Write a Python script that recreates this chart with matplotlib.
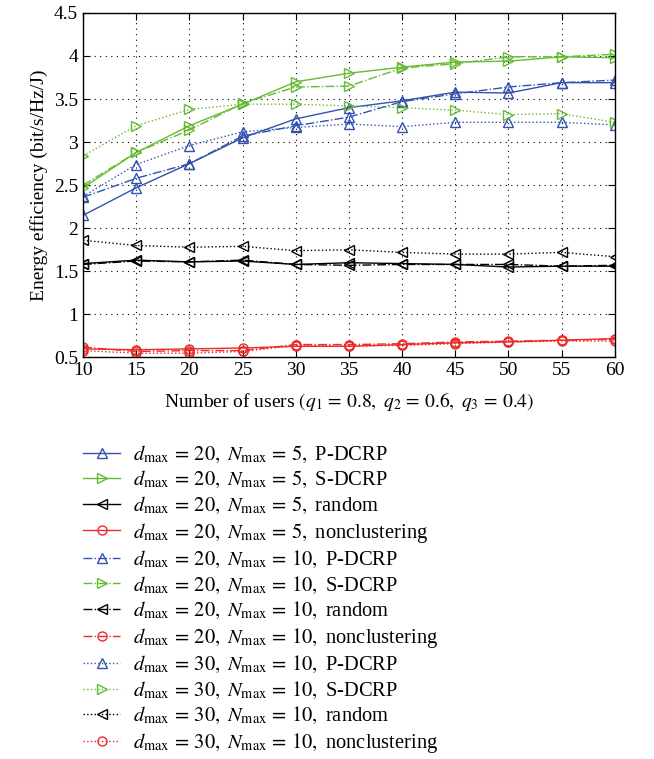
import matplotlib
matplotlib.use('Agg')
import matplotlib.pyplot as plt

plt.rcParams['font.family'] = ['Liberation Serif', 'DejaVu Serif']
plt.rcParams['mathtext.fontset'] = 'stix'

# number of users
users = [10, 15, 20, 25, 30, 35, 40, 45, 50, 55, 60]

# dmax = 20, Nmax = 5
pdcrp_20_5 = [2.15, 2.47, 2.75, 3.05, 3.27, 3.40, 3.48, 3.58, 3.57, 3.69, 3.69]
sdcrp_20_5 = [2.47, 2.88, 3.19, 3.44, 3.70, 3.80, 3.87, 3.93, 3.94, 3.99, 3.98]
random_20_5 = [1.59, 1.63, 1.61, 1.62, 1.58, 1.60, 1.59, 1.58, 1.55, 1.56, 1.56]
noclust_20_5 = [0.60, 0.59, 0.60, 0.61, 0.63, 0.63, 0.65, 0.67, 0.68, 0.70, 0.72]

# dmax = 20, Nmax = 10
pdcrp_20_10 = [2.36, 2.58, 2.75, 3.07, 3.19, 3.29, 3.47, 3.56, 3.64, 3.69, 3.72]
sdcrp_20_10 = [2.50, 2.88, 3.14, 3.45, 3.64, 3.65, 3.86, 3.91, 3.99, 3.99, 4.02]
random_20_10 = [1.58, 1.62, 1.61, 1.63, 1.58, 1.57, 1.58, 1.58, 1.58, 1.56, 1.57]
noclust_20_10 = [0.62, 0.57, 0.58, 0.58, 0.65, 0.65, 0.66, 0.68, 0.69, 0.70, 0.71]

# dmax = 30, Nmax = 10
pdcrp_30_10 = [2.37, 2.74, 2.96, 3.12, 3.17, 3.21, 3.18, 3.23, 3.23, 3.23, 3.20]
sdcrp_30_10 = [2.84, 3.19, 3.38, 3.44, 3.44, 3.42, 3.40, 3.37, 3.32, 3.33, 3.23]
random_30_10 = [1.86, 1.80, 1.78, 1.79, 1.74, 1.75, 1.72, 1.70, 1.70, 1.72, 1.67]
noclust_30_10 = [0.58, 0.55, 0.55, 0.57, 0.64, 0.63, 0.64, 0.66, 0.68, 0.69, 0.69]

blue = '#3352b0'
green = '#66bb33'
black = '#000000'
red = '#ee2a2a'

series = [
    (pdcrp_20_5, blue, '-', '^', 20, 5, 'P-DCRP'),
    (sdcrp_20_5, green, '-', '>', 20, 5, 'S-DCRP'),
    (random_20_5, black, '-', '<', 20, 5, 'random'),
    (noclust_20_5, red, '-', 'o', 20, 5, 'nonclustering'),
    (pdcrp_20_10, blue, '-.', '^', 20, 10, 'P-DCRP'),
    (sdcrp_20_10, green, '-.', '>', 20, 10, 'S-DCRP'),
    (random_20_10, black, '-.', '<', 20, 10, 'random'),
    (noclust_20_10, red, '-.', 'o', 20, 10, 'nonclustering'),
    (pdcrp_30_10, blue, ':', '^', 30, 10, 'P-DCRP'),
    (sdcrp_30_10, green, ':', '>', 30, 10, 'S-DCRP'),
    (random_30_10, black, ':', '<', 30, 10, 'random'),
    (noclust_30_10, red, ':', 'o', 30, 10, 'nonclustering'),
]

fig = plt.figure(figsize=(6.54, 7.59), dpi=100)
ax = fig.add_axes([0.127, 0.529, 0.813, 0.454])

handles = []
for vals, col, ls, mk, d, n, name in series:
    label = r'$d_{\mathrm{max}}\,=\,%d,\ N_{\mathrm{max}}\,=\,%d,$ %s' % (d, n, name)
    h, = ax.plot(users, vals, color=col, linestyle=ls, marker=mk,
                 markerfacecolor='none', markersize=6.5, linewidth=1.0,
                 label=label)
    handles.append(h)

ax.set_xlim(10, 60)
ax.set_ylim(0.5, 4.5)
ax.set_xticks(users)
ax.set_yticks([0.5, 1, 1.5, 2, 2.5, 3, 3.5, 4, 4.5])
ax.set_yticklabels(['0.5', '1', '1.5', '2', '2.5', '3', '3.5', '4', '4.5'])
ax.grid(True, color='black', linestyle=(0, (1, 4)), linewidth=0.8)
ax.tick_params(direction='in', top=True, right=True, labelsize=14, length=5)
for s in ax.spines.values():
    s.set_linewidth(1.0)

ax.set_xlabel(r'Number of users $(q_1\,=\,0.8,\ q_2\,=\,0.6,\ q_3\,=\,0.4)$', fontsize=14, labelpad=8)
ax.set_ylabel('Energy efficiency (bit/s/Hz/J)', fontsize=14, labelpad=4)

fig.legend(handles=handles, loc='upper left', bbox_to_anchor=(0.115, 0.426),
           frameon=False, fontsize=14.8, handlelength=1.8, handletextpad=0.6,
           labelspacing=0.22, numpoints=1, borderaxespad=0)

fig.savefig('out.png', dpi=100)
